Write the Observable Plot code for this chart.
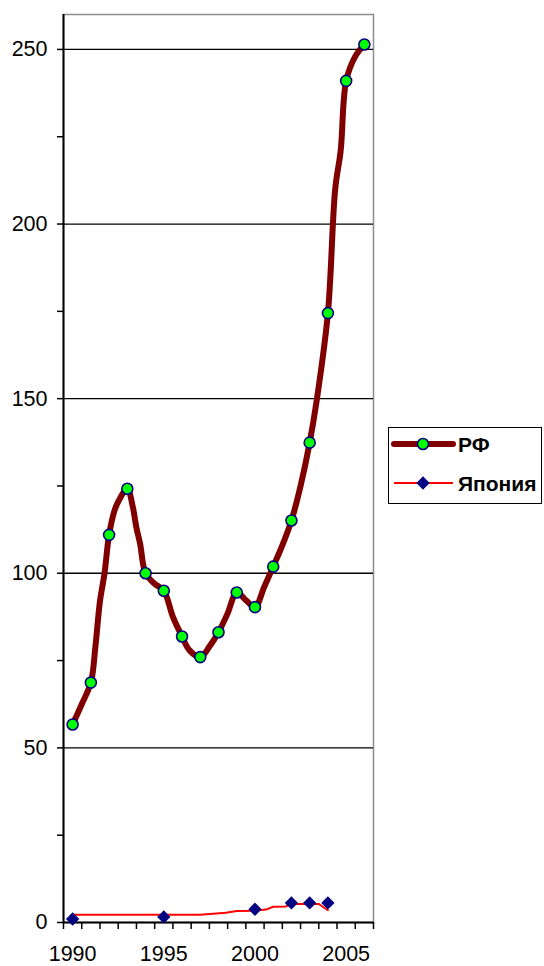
<!DOCTYPE html>
<html>
<head>
<meta charset="utf-8">
<script src="https://cdn.jsdelivr.net/npm/d3@7"></script>
<script src="https://cdn.jsdelivr.net/npm/@observablehq/plot@0.6"></script>
<style>
  body { margin: 0; background: #fff; }
  #wrap { position: relative; width: 544px; height: 966px; }
  #legend { position: absolute; left: 388px; top: 427px; width: 154px; height: 77px; box-sizing: border-box;
            border: 1.5px solid #000; background: #fff; }
  #legend svg { display: block; }
</style>
</head>
<body>
<div id="wrap"><div id="chart"></div><div id="legend"></div></div>
<script>
// ---- data ----
const seriesNames = ["РФ", "Япония"];

// РФ markers (yearly)
const rfYears  = [1990, 1991, 1992, 1993, 1994, 1995, 1996, 1997, 1998, 1999, 2000, 2001, 2002, 2003, 2004, 2005, 2006];
const rfValues = [56.7, 68.7, 111, 124.2, 100, 95, 81.9, 76, 83.1, 94.5, 90.3, 101.9, 115.1, 137.4, 174.5, 241, 251.4];

// РФ line path (it bends between the markers)
const rfLineYears  = [1990, 1990.5, 1991, 1991.25, 1991.5, 1991.75, 1992, 1992.3, 1992.5, 1993, 1993.3, 1993.5, 1993.7, 1994, 1994.5, 1995, 1995.5, 1996, 1996.4, 1997, 1997.5, 1998, 1998.5, 1999, 1999.5, 2000, 2000.5, 2001, 2001.5, 2002, 2002.5, 2003, 2003.4, 2004, 2004.4, 2004.7, 2005, 2005.5, 2006];
const rfLineValues = [56.7, 62.5, 68.7, 79, 92, 100, 111, 118, 120.5, 124.2, 119, 113, 108.5, 100, 97, 95, 87.5, 81.9, 78, 76, 79, 83.1, 88.5, 94.5, 92.3, 90.3, 96, 101.9, 108, 115.1, 125, 137.4, 150, 174.5, 210, 221, 241, 248, 251.4];

// Япония markers
const jpYears  = [1990, 1995, 2000, 2002, 2003, 2004];
const jpValues = [1.0, 1.6, 3.8, 5.6, 5.6, 5.6];

// Япония line path
const jpLineYears  = [1990, 1997, 1998.4, 1999, 2000, 2000.6, 2001, 2001.7, 2002, 2003, 2003.5, 2004];
const jpLineValues = [2.2, 2.2, 2.8, 3.3, 3.4, 3.7, 4.5, 4.6, 5.3, 5.3, 5.3, 3.5];

// axes
const yTickValues  = [0, 50, 100, 150, 200, 250];
const yMinorValues = [25, 75, 125, 175, 225];
const yGridValues  = [50, 100, 150, 200, 250];
const xLabelYears  = [1990, 1995, 2000, 2005];
const xDomain = [1989.5, 2006.5];
const yDomain = [0, 260];

// ---- build ----
const rfMarks = rfYears.map((x, i) => ({x, y: rfValues[i]}));
const rfLine  = rfLineYears.map((x, i) => ({x, y: rfLineValues[i]}));
const jpMarks = jpYears.map((x, i) => ({x, y: jpValues[i]}));
const jpLine  = jpLineYears.map((x, i) => ({x, y: jpLineValues[i]}));
const xTickBounds = d3.range(xDomain[0], xDomain[1] + 0.01, 1);

const font = "Arial, 'Liberation Sans', sans-serif";

const chart = Plot.plot({
  width: 544,
  height: 966,
  marginLeft: 63,
  marginRight: 171,
  marginTop: 14,
  marginBottom: 44,
  style: {fontFamily: font, fontSize: "21px", color: "#000", background: "#fff"},
  x: {type: "linear", domain: xDomain},
  y: {type: "linear", domain: yDomain},
  marks: [
    Plot.frame({stroke: "#8c8c8c", strokeWidth: 1.5}),
    Plot.ruleY(yGridValues, {stroke: "#000", strokeWidth: 1.3}),
    Plot.ruleX([xDomain[0]], {stroke: "#000", strokeWidth: 2}),
    Plot.ruleY([0], {stroke: "#000", strokeWidth: 2}),
    Plot.axisY({ticks: yTickValues, tickSize: 6, tickPadding: 10, strokeWidth: 1.5, tickFormat: d => String(d), label: null, fontSize: 21.5}),
    Plot.axisY({ticks: yMinorValues, tickSize: 6, strokeWidth: 1.5, tickFormat: () => "", label: null}),
    Plot.axisX({ticks: xTickBounds, tickSize: 7, strokeWidth: 1.5, tickFormat: () => "", label: null}),
    Plot.axisX({ticks: xLabelYears, tickSize: 0, tickPadding: 23, tickFormat: d => String(d), label: null, fontSize: 21.5}),
    Plot.line(jpLine, {x: "x", y: "y", stroke: "#ff0000", strokeWidth: 2}),
    Plot.dot(jpMarks, {x: "x", y: "y", symbol: "diamond2", r: 6, fill: "#000080", stroke: "none"}),
    Plot.line(rfLine, {x: "x", y: "y", stroke: "#800000", strokeWidth: 6, curve: "catmull-rom", strokeLinejoin: "round", strokeLinecap: "round"}),
    Plot.dot(rfMarks, {x: "x", y: "y", r: 5.5, fill: "#00ff00", stroke: "#000080", strokeWidth: 1.6})
  ]
});
document.getElementById("chart").appendChild(chart);

// ---- legend ----
const lg = d3.select("#legend").append("svg").attr("width", 151).attr("height", 74);
// РФ
lg.append("line").attr("x1", 5).attr("x2", 64).attr("y1", 16).attr("y2", 16)
  .attr("stroke", "#800000").attr("stroke-width", 6).attr("stroke-linecap", "round");
lg.append("circle").attr("cx", 34).attr("cy", 16).attr("r", 5.5)
  .attr("fill", "#00ff00").attr("stroke", "#000080").attr("stroke-width", 1.6);
lg.append("text").attr("x", 69).attr("y", 24).text(seriesNames[0])
  .attr("font-family", font).attr("font-weight", "bold").attr("font-size", 21);
// Япония
lg.append("line").attr("x1", 5).attr("x2", 64).attr("y1", 55).attr("y2", 55)
  .attr("stroke", "#ff0000").attr("stroke-width", 2);
lg.append("path").attr("d", d3.symbol(d3.symbolDiamond2, 113)()).attr("transform", "translate(34,55)")
  .attr("fill", "#000080");
lg.append("text").attr("x", 69).attr("y", 63).text(seriesNames[1])
  .attr("font-family", font).attr("font-weight", "bold").attr("font-size", 21);
</script>
</body>
</html>
